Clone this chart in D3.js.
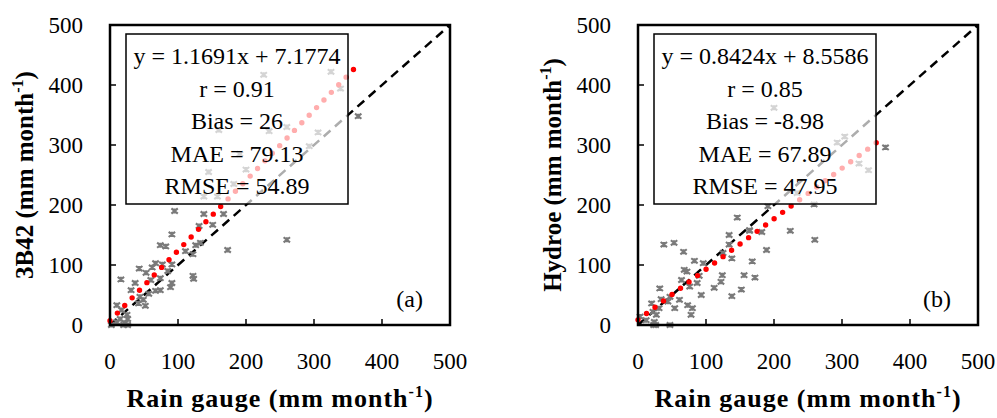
<!DOCTYPE html>
<html>
<head>
<meta charset="utf-8">
<script src="https://cdn.jsdelivr.net/npm/d3@7"></script>
<style>
  body { margin: 0; background: #fff; }
  text { font-family: "Liberation Serif", "Times New Roman", serif; fill: #000; }
</style>
</head>
<body>
<div id="chart"></div>
<script>
// rain gauge vs 3B42 (panel a)
var gaugeA = [2,20,26,10,26,25,17,10,15,22,42,52,49,44,31,57,67,74,89,37,91,16,74,60,122,123,53,62,43,67,91,77,85,111,122,126,133,74,82,91,131,151,173,260,95,138,167,138,158,182,145,200,191,293,160,234,260,306,365,339,226,325];
var sat3B42 = [0,0,0,5,10,17,25,33,10,3,36,32,42,47,58,52,57,58,63,70,70,76,78,75,82,77,87,96,94,103,101,101,90,123,118,133,137,133,131,151,165,167,125,142,190,185,185,214,214,235,255,259,285,298,325,323,330,321,348,394,417,422];

// rain gauge vs Hydroe (panel b)
var gaugeB = [3,12,24,23,26,47,22,27,20,31,34,44,47,32,54,61,73,80,78,64,76,68,72,87,90,93,83,96,112,122,124,156,152,138,125,138,134,134,164,146,67,38,53,168,172,189,164,182,224,260,191,259,234,200,304,293,325,339,364];
var hydroe = [14,8,5,0,0,0,22,17,36,28,43,39,47,61,28,42,33,28,17,75,64,92,89,70,82,50,107,103,62,72,83,83,59,48,120,111,134,150,158,179,122,134,137,106,79,125,157,155,157,142,198,201,220,362,314,304,269,258,296];

var fitA = {slope: 1.1691, icpt: 7.1774, xmax: 360};
var fitB = {slope: 0.8424, icpt: 8.5586, xmax: 352};

var statsA = ["y = 1.1691x + 7.1774", "r = 0.91", "Bias = 26", "MAE = 79.13", "RMSE = 54.89"];
var statsB = ["y = 0.8424x + 8.5586", "r = 0.85", "Bias = -8.98", "MAE = 67.89", "RMSE = 47.95"];

var ticks = [0, 100, 200, 300, 400, 500];

var svg = d3.select("#chart").append("svg").attr("width", 997).attr("height", 418);

function starPath(s) {
  // excel style star marker: an x with a vertical bar
  return "M" + (-s) + "," + (-s*0.8) + "L" + s + "," + (s*0.8) +
         "M" + (-s) + "," + (s*0.8) + "L" + s + "," + (-s*0.8) +
         "M0," + (-s*0.8) + "L0," + (s*0.8);
}

function drawPanel(left, xs, ys, fit, stats, yTitle, tag) {
  var w = 340, top = 25, h = 300;
  var x = d3.scaleLinear().domain([0, 500]).range([left, left + w]);
  var y = d3.scaleLinear().domain([0, 500]).range([top + h, top]);
  var g = svg.append("g");

  // 1:1 line
  g.append("line")
    .attr("x1", x(0)).attr("y1", y(0)).attr("x2", x(500)).attr("y2", y(500))
    .attr("stroke", "#000").attr("stroke-width", 2.5).attr("stroke-dasharray", "9 6");

  // gray points
  g.selectAll("path.pt").data(xs).enter().append("path")
    .attr("class", "pt")
    .attr("transform", function(d, i){ return "translate(" + x(d) + "," + y(ys[i]) + ")"; })
    .attr("d", starPath(3.2))
    .attr("fill", "none").attr("stroke", "#7a7a7a").attr("stroke-width", 2.1);

  // trend line (red dots)
  g.append("line")
    .attr("x1", x(0)).attr("y1", y(fit.icpt))
    .attr("x2", x(fit.xmax)).attr("y2", y(fit.icpt + fit.slope * fit.xmax))
    .attr("stroke", "#ff0000").attr("stroke-width", 5.4)
    .attr("stroke-linecap", "round").attr("stroke-dasharray", "0 10.6");

  // stats box, white and a bit transparent
  var bx = left + 16, bw = 222, by = 34, bh = 170;
  g.append("rect").attr("x", bx).attr("y", by).attr("width", bw).attr("height", bh)
    .attr("fill", "#fff").attr("fill-opacity", 0.68)
    .attr("stroke", "#000").attr("stroke-width", 1.5);
  stats.forEach(function(s, i){
    g.append("text").attr("x", bx + bw / 2).attr("y", 64 + i * 32.5)
      .attr("text-anchor", "middle").style("font-size", "24px").text(s);
  });

  // frame
  g.append("rect").attr("x", left).attr("y", top).attr("width", w).attr("height", h)
    .attr("fill", "none").attr("stroke", "#000").attr("stroke-width", 2.5);

  // ticks inside
  ticks.forEach(function(t){
    if (t > 0 && t < 500) {
      g.append("line").attr("x1", x(t)).attr("x2", x(t)).attr("y1", y(0)).attr("y2", y(0) - 6)
        .attr("stroke", "#000").attr("stroke-width", 1.5);
      g.append("line").attr("x1", x(0)).attr("x2", x(0) + 6).attr("y1", y(t)).attr("y2", y(t))
        .attr("stroke", "#000").attr("stroke-width", 1.5);
    }
    g.append("text").attr("x", x(t)).attr("y", 369).attr("text-anchor", "middle")
      .style("font-size", "23px").text(t);
    g.append("text").attr("x", left - 27).attr("y", y(t) + 8).attr("text-anchor", "end")
      .style("font-size", "23px").text(t);
  });

  // panel tag
  g.append("text").attr("x", left + w - 27).attr("y", 307).attr("text-anchor", "end")
    .style("font-size", "24px").text(tag);

  // axis titles
  var xt = g.append("text").attr("x", left + w / 2).attr("y", 407).attr("text-anchor", "middle")
    .style("font-size", "26px").style("font-weight", "bold").style("letter-spacing", "1px");
  xt.append("tspan").text("Rain gauge (mm month");
  xt.append("tspan").attr("dy", -10).style("font-size", "16px").text("-1");
  xt.append("tspan").attr("dy", 10).text(")");

  var yt = g.append("text").attr("transform", "translate(" + (left - 77) + "," + (top + h / 2) + ") rotate(-90)")
    .attr("text-anchor", "middle").style("font-size", "25px").style("font-weight", "bold");
  yt.append("tspan").text(yTitle + " (mm month");
  yt.append("tspan").attr("dy", -10).style("font-size", "16px").text("-1");
  yt.append("tspan").attr("dy", 10).text(")");
}

drawPanel(110, gaugeA, sat3B42, fitA, statsA, "3B42", "(a)");
drawPanel(638, gaugeB, hydroe, fitB, statsB, "Hydroe", "(b)");
</script>
</body>
</html>
